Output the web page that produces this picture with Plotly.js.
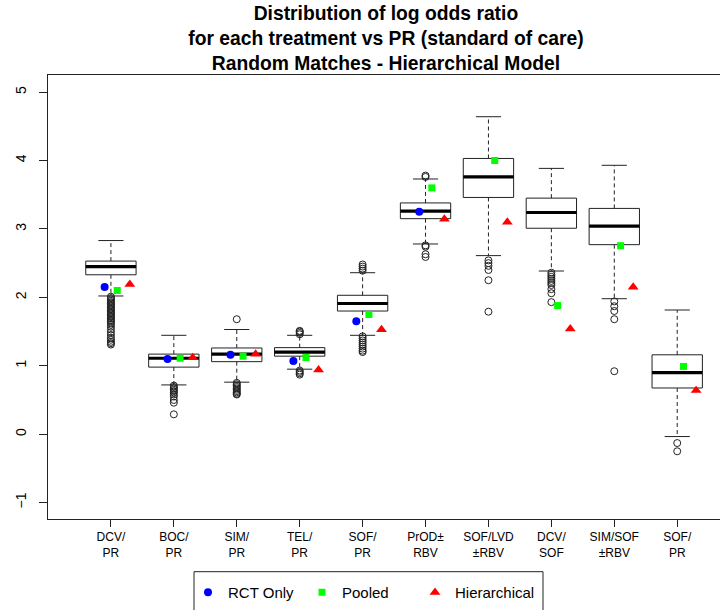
<!DOCTYPE html>
<html><head><meta charset="utf-8">
<script src="https://cdn.plot.ly/plotly-3.0.1.min.js"></script>
<style>html,body{margin:0;padding:0;background:#fff;overflow:hidden}</style>
</head><body><div id="chart" style="width:720px;height:610px"></div>
<script>
const categories = ["DCV/<br>PR","BOC/<br>PR","SIM/<br>PR","TEL/<br>PR","SOF/<br>PR","PrOD±<br>RBV","SOF/LVD<br>±RBV","DCV/<br>SOF","SIM/SOF<br>±RBV","SOF/<br>PR"];
const positions = [1,2,3,4,5,6,7,8,9,10];
const lowerWhisker = [2.02,0.72,0.76,0.95,1.445,2.78,2.61,2.385,1.98,-0.035];
const q1 = [2.33,0.98,1.06,1.14,1.80,3.15,3.46,3.01,2.77,0.675];
const median = [2.45,1.11,1.17,1.20,1.91,3.26,3.76,3.24,3.04,0.90];
const q3 = [2.53,1.17,1.26,1.265,2.03,3.38,4.03,3.45,3.30,1.16];
const upperWhisker = [2.83,1.445,1.53,1.445,2.36,3.73,4.64,3.885,3.93,1.815];
const outliers = [
  [2.01,1.99,1.97,1.95,1.93,1.91,1.89,1.87,1.85,1.83,1.81,1.79,1.77,1.75,1.73,1.71,1.69,1.67,1.65,1.63,1.60,1.57,1.53,1.49,1.45,1.41,1.38,1.35,1.33,1.31],
  [0.71,0.69,0.67,0.65,0.63,0.61,0.58,0.55,0.50,0.46,0.29],
  [1.68,0.75,0.73,0.71,0.69,0.67,0.65,0.63,0.61,0.59,0.58],
  [1.46,1.48,1.50,1.51,0.93,0.91,0.89,0.87],
  [2.39,2.42,2.45,2.48,1.43,1.40,1.37,1.34,1.31,1.28,1.25,1.22,1.20],
  [3.76,3.78,2.76,2.74,2.63,2.59],
  [2.54,2.50,2.46,2.40,2.25,1.79],
  [2.36,2.33,2.30,2.27,2.24,2.21,2.18,2.12,2.06,1.93],
  [1.94,1.87,1.80,1.68,0.92],
  [-0.13,-0.25]
];
const rctOnly = [2.15,1.10,1.16,1.07,1.65,3.25,null,null,null,null];
const pooled = [2.10,1.11,1.14,1.12,1.75,3.60,4.00,1.88,2.755,0.99];
const hierarchical = [2.19,1.12,1.17,0.94,1.53,3.145,3.10,1.54,2.15,0.64];

const ink = '#222';
const boxHalf = 0.4, capHalf = 0.2;
const offRCT = -0.1, offPooled = 0.1, offHier = 0.3;

const wx = [], wy = [], cx = [], cy = [], mx = [], my = [], ox = [], oy = [];
positions.forEach((p, i) => {
  wx.push(p, p, null, p, p, null);
  wy.push(q3[i], upperWhisker[i], null, q1[i], lowerWhisker[i], null);
  cx.push(p - capHalf, p + capHalf, null, p - capHalf, p + capHalf, null);
  cy.push(upperWhisker[i], upperWhisker[i], null, lowerWhisker[i], lowerWhisker[i], null);
  mx.push(p - boxHalf, p + boxHalf, null);
  my.push(median[i], median[i], null);
  outliers[i].forEach(v => { ox.push(p); oy.push(v); });
});

const traces = [
  {type:'box', x: positions, q1: q1, median: median, q3: q3, lowerfence: q1, upperfence: q3,
   width: 0.8, whiskerwidth: 0, fillcolor: '#fff', line:{color: ink, width: 1},
   boxpoints: false, showlegend: false, hoverinfo: 'skip'},
  {type:'scatter', mode:'lines', x: wx, y: wy, line:{color: ink, width: 1, dash:'4px,3px'}, showlegend:false, hoverinfo:'skip'},
  {type:'scatter', mode:'lines', x: cx, y: cy, line:{color: ink, width: 1}, showlegend:false, hoverinfo:'skip'},
  {type:'scatter', mode:'lines', x: mx, y: my, line:{color: '#000', width: 3.2}, showlegend:false, hoverinfo:'skip'},
  {type:'scatter', mode:'markers', x: ox, y: oy, marker:{symbol:'circle-open', size:7, color: ink, line:{width:1, color: ink}}, showlegend:false, hoverinfo:'skip'},
  {type:'scatter', mode:'markers', name:'RCT Only', x: positions.map(p => p + offRCT), y: rctOnly,
   marker:{symbol:'circle', size:8, color:'#0000FF'}, legendwidth: 69},
  {type:'scatter', mode:'markers', name:'Pooled', x: positions.map(p => p + offPooled), y: pooled,
   marker:{symbol:'square', size:7, color:'#00FF00'}, legendwidth: 68},
  {type:'scatter', mode:'markers', name:'Hierarchical', x: positions.map(p => p + offHier), y: hierarchical,
   marker:{symbol:'triangle-up', size:9.5, color:'#FF0000'}, legendwidth: 90}
];

const font = 'Liberation Sans, Arial, Helvetica, sans-serif';
const layout = {
  width: 720, height: 610,
  margin: {l: 48, r: 0, t: 75, b: 91},
  paper_bgcolor: '#fff', plot_bgcolor: '#fff',
  font: {family: font, color: '#000'},
  title: {text: 'Distribution of log odds ratio<br>for each treatment vs PR (standard of care)<br>Random Matches - Hierarchical Model',
          font: {family: font, size: 19.3, weight: 'bold', color: '#000'},
          x: 0.536, xref: 'container', xanchor: 'center', y: 0.967, yref: 'container', yanchor: 'top'},
  xaxis: {range: [0, 10.68], tickmode: 'array', tickvals: positions, ticktext: categories,
          showline: true, mirror: true, linecolor: ink, linewidth: 1,
          ticks: 'outside', ticklen: 7, tickcolor: ink, tickwidth: 1,
          showgrid: false, zeroline: false, tickfont: {size: 12, family: font}},
  yaxis: {range: [-1.24, 5.25], tickmode: 'array', tickvals: [-1,0,1,2,3,4,5],
          showline: true, mirror: false, linecolor: ink, linewidth: 1,
          ticks: 'outside', ticklen: 8, tickcolor: ink, tickwidth: 1, tickangle: -90,
          ticklabelstandoff: 7,
          showgrid: false, zeroline: false, tickfont: {size: 14, family: font}},
  showlegend: true,
  legend: {orientation: 'h', xref: 'container', yref: 'container', x: 188/720, xanchor: 'left',
           y: 1 - 576/610, yanchor: 'top', entrywidthmode: 'pixels',
           font: {size: 15, family: font}, borderwidth: 0, bgcolor: 'rgba(0,0,0,0)'},
  shapes: [{type: 'rect', xref: 'paper', yref: 'paper', x0: (194-48)/672, x1: (543-48)/672,
            y0: (519 - 571.7)/444, y1: (519 - 625)/444, line: {color: ink, width: 1}, fillcolor: 'rgba(0,0,0,0)'}]
};
Plotly.newPlot('chart', traces, layout, {displayModeBar: false, staticPlot: true});
</script></body></html>
